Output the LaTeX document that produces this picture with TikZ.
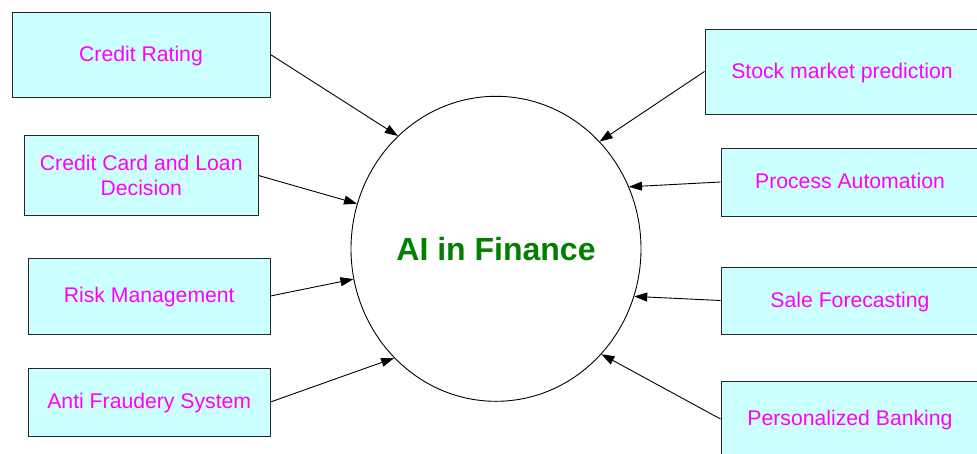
\documentclass[tikz,border=0pt]{standalone}
\usepackage{fontspec}
\setmainfont{Liberation Sans}
\usetikzlibrary{shapes.geometric,arrows.meta}
\definecolor{boxfill}{HTML}{CCFFFF}
\definecolor{txtmag}{HTML}{FF00FF}
\definecolor{txtgreen}{HTML}{008000}
\tikzset{
  appbox/.style={draw=black!85, line width=1pt, fill=boxfill, rectangle, inner sep=0pt,
    text=txtmag, font=\fontsize{21.2}{25}\selectfont, align=center},
  oneline/.style={appbox, text height=15pt, text depth=2pt},
  conn/.style={line width=0.9pt, -{Triangle[length=13pt,width=9pt]}},
}
\begin{document}
\begin{tikzpicture}[x=1pt,y=-1pt]
\useasboundingbox (0,0) rectangle (977,453);
\fill[white] (0,0) rectangle (977,453);
% centre
\node[ellipse, draw, line width=0.9pt, minimum width=290pt, minimum height=305pt, inner sep=0pt,
  text=txtgreen, font=\fontsize{32}{38}\selectfont\bfseries] (c) at (496,248.8) {AI in Finance};
% left boxes
\node[oneline, minimum width=258pt, minimum height=85pt] (cr) at (141,54.5) {Credit Rating};
\node[appbox, minimum width=233.5pt, minimum height=80.5pt] (cc) at (141.25,175.5) {Credit Card and Loan\\Decision};
\node[oneline, minimum width=241.5pt, minimum height=76pt] (rm) at (149.25,296) {Risk Management};
\node[oneline, minimum width=241.5pt, minimum height=68pt] (af) at (149.25,402) {Anti Fraudery System};
% right boxes
\node[oneline, minimum width=274pt, minimum height=85pt] (sm) at (842,71.5) {Stock market prediction};
\node[oneline, minimum width=258pt, minimum height=68pt] (pa) at (850,182) {Process Automation};
\node[oneline, minimum width=258pt, minimum height=67pt] (sf) at (850,300.5) {Sale Forecasting};
\node[oneline, minimum width=258pt, minimum height=76pt] (pb) at (850,419) {Personalized Banking};
% connectors
\draw[conn] (cr.east) -- (c.131.1);
\draw[conn] (cc.east) -- (c.162.2);
\draw[conn] (rm.east) -- (c.192.9);
\draw[conn] (af.east) -- (c.227);
\draw[conn] (sm.west) -- (c.46.2);
\draw[conn] (pa.west) -- (c.25.2);
\draw[conn] (sf.west) -- (c.-19.4);
\draw[conn] (pb.west) -- (c.-45);
\end{tikzpicture}
\end{document}
